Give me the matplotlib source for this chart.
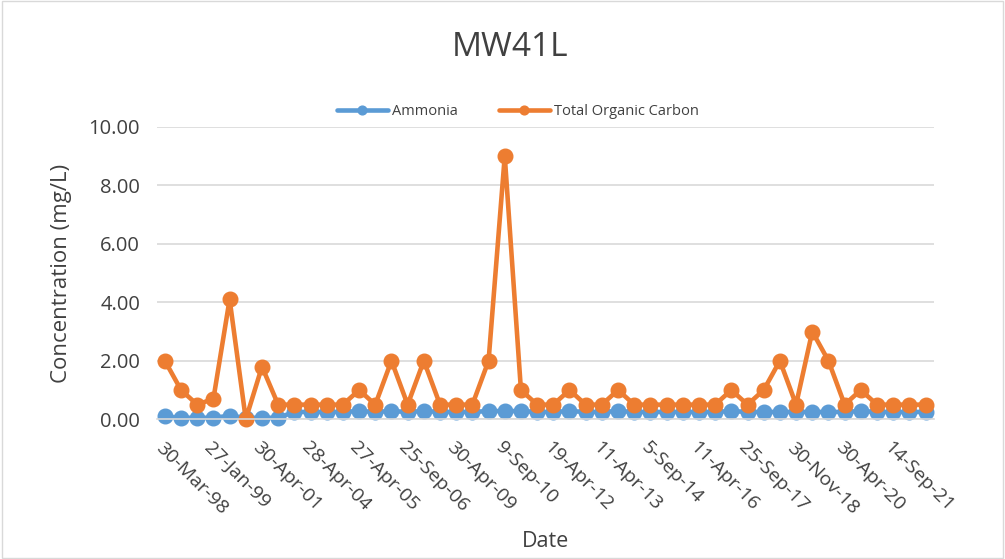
import matplotlib
matplotlib.use("Agg")
import matplotlib.pyplot as plt
from matplotlib.patches import Rectangle

plt.rcParams['font.family'] = ['Open Sans', 'DejaVu Sans']

# sample dates (only every third one is labelled on the axis)
tick_labels = ["30-Mar-98", "27-Jan-99", "30-Apr-01", "28-Apr-04", "27-Apr-05",
               "25-Sep-06", "30-Apr-09", "9-Sep-10", "19-Apr-12", "11-Apr-13",
               "5-Sep-14", "11-Apr-16", "25-Sep-17", "30-Nov-18", "30-Apr-20",
               "14-Sep-21"]

ammonia = [0.10, 0.05, 0.05, 0.05, 0.12, 0.05, 0.05, 0.05, 0.25, 0.25,
           0.25, 0.25, 0.28, 0.25, 0.28, 0.25, 0.28, 0.25, 0.25, 0.25,
           0.28, 0.28, 0.28, 0.25, 0.25, 0.28, 0.25, 0.25, 0.28, 0.25,
           0.25, 0.25, 0.25, 0.25, 0.25, 0.28, 0.25, 0.25, 0.25, 0.25,
           0.25, 0.25, 0.25, 0.28, 0.25, 0.25, 0.25, 0.25]

toc = [2.0, 1.0, 0.5, 0.7, 4.1, 0.0, 1.8, 0.5, 0.5, 0.5,
       0.5, 0.5, 1.0, 0.5, 2.0, 0.5, 2.0, 0.5, 0.5, 0.5,
       2.0, 9.0, 1.0, 0.5, 0.5, 1.0, 0.5, 0.5, 1.0, 0.5,
       0.5, 0.5, 0.5, 0.5, 0.5, 1.0, 0.5, 1.0, 2.0, 0.5,
       3.0, 2.0, 0.5, 1.0, 0.5, 0.5, 0.5, 0.5]

txt = "#404040"
blue = "#5B9BD5"
orange = "#ED7D31"

fig = plt.figure(figsize=(10.05, 5.59), dpi=100)
ax = fig.add_axes([0.156, 0.25, 0.773, 0.523])

x = list(range(len(toc)))
ax.plot(x, ammonia, color=blue, lw=3.3, marker="o", ms=10.5, label="Ammonia",
        solid_capstyle="round")
ax.plot(x, toc, color=orange, lw=3.3, marker="o", ms=10.5, label="Total Organic Carbon",
        solid_capstyle="round")

ax.set_xlim(-0.5, len(toc) - 0.5)
ax.set_ylim(0, 10)
ax.set_yticks([0, 2, 4, 6, 8, 10])
ax.set_yticklabels(["%.2f" % v for v in [0, 2, 4, 6, 8, 10]], fontsize=14.5, color=txt)
ax.set_xticks(x[::3])
ax.set_xticklabels(tick_labels, rotation=-45, ha="left", va="top",
                   rotation_mode="anchor", fontsize=14, color=txt)
ax.tick_params(axis="y", length=0, pad=12)
ax.tick_params(axis="x", length=0, pad=14)
ax.grid(axis="y", color="#d9d9d9", lw=1.2)
ax.set_axisbelow(True)
for s in ax.spines.values():
    s.set_visible(False)
ax.spines["bottom"].set_visible(True)
ax.spines["bottom"].set_color("#d9d9d9")
ax.spines["bottom"].set_linewidth(1.2)
for ln in ax.lines:
    ln.set_clip_on(False)

ax.set_ylabel("Concentration (mg/L)", fontsize=16, color=txt, labelpad=12)
fig.text(0.543, 0.032, "Date", fontsize=15.5, color=txt, ha="center", va="center")
fig.text(0.508, 0.915, "MW41L", fontsize=24, color=txt, ha="center", va="center")

ax.legend(loc="center", bbox_to_anchor=(0.465, 1.053), ncol=2, frameon=False,
          fontsize=10.5, labelcolor=txt, handlelength=3.5, markerscale=0.6,
          handletextpad=0.3, columnspacing=2.8, borderaxespad=0)

fig.patches.append(Rectangle((0.002, 0.002), 0.996, 0.996, transform=fig.transFigure,
                             fill=False, ec="#d9d9d9", lw=1))

fig.savefig("out.png", dpi=100)
